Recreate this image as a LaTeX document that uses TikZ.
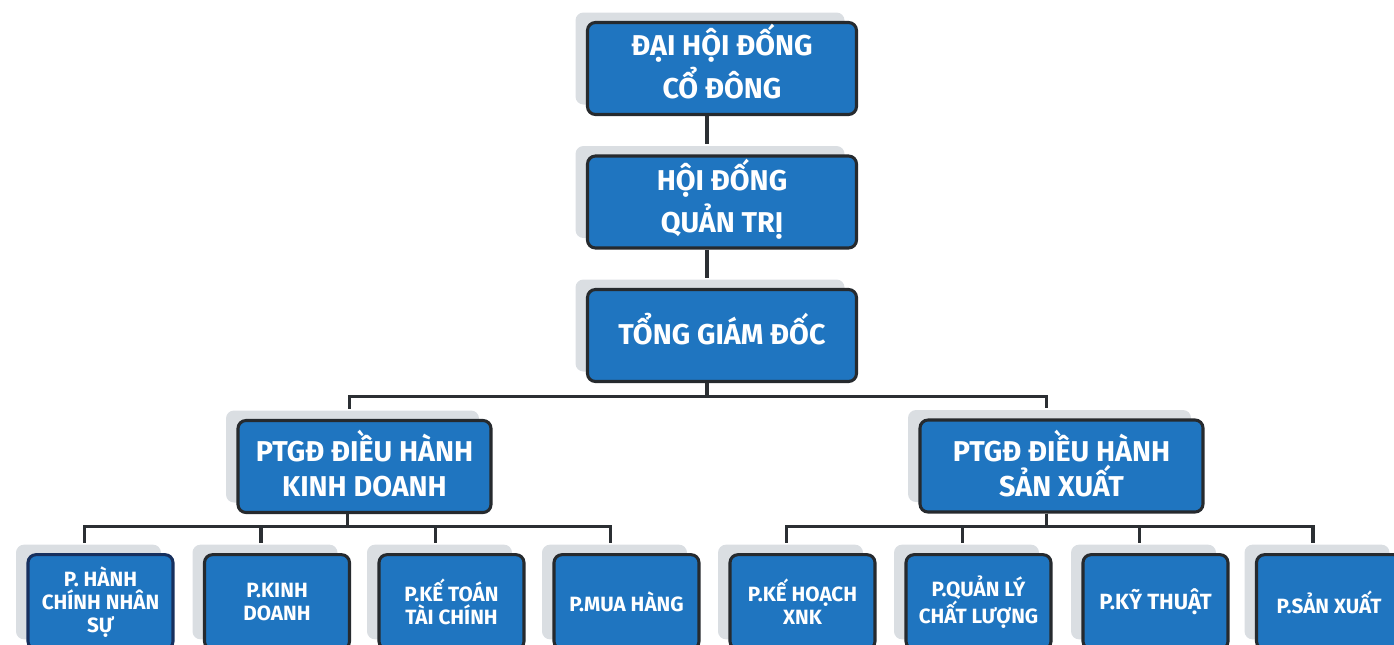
\documentclass[tikz,border=0pt]{standalone}
\usepackage{fontspec}
\setmainfont{Fira Sans}
\usetikzlibrary{shadows, positioning}
\definecolor{boxblue}{HTML}{1F75C0}
\definecolor{boxedge}{HTML}{262A2E}
\definecolor{navyedge}{HTML}{17305E}
\definecolor{shade}{HTML}{DADEE2}
\definecolor{linkcol}{HTML}{2B2F33}
\newcommand{\lift}[2][4pt]{\raisebox{#1}[\height][\depth]{#2}}
\tikzset{
    box/.style={rectangle, rounded corners=6pt, draw=boxedge, line width=2.3pt, fill=boxblue, text=white, align=center,
        general shadow={fill=shade, shadow xshift=-9pt, shadow yshift=7.5pt}},
    top box/.style={box, minimum width=201.75pt, minimum height=69pt, font=\bfseries\fontsize{21.5}{32}\selectfont},
    deputy box/.style={box, minimum height=69pt, font=\bfseries\fontsize{21.5}{26}\selectfont},
    dept box/.style={box, minimum width=108.75pt, minimum height=71pt, font=\bfseries\fontsize{15.5}{17.5}\selectfont},
    link/.style={draw=linkcol, line width=2.3pt}
}
\begin{document}
\begin{tikzpicture}[x=0.75pt, y=-0.75pt]
    \useasboundingbox (0,0) rectangle (1394,644);
    \clip (0,0) rectangle (1394,644);

    \node[top box] (dhcd) at (722,68.5) {\lift[5pt]{ĐẠI HỘI ĐỐNG}\\\lift[5pt]{CỔ ĐÔNG}};
    \node[top box] (hdqt) at (722,202) {\lift[2pt]{HỘI ĐỐNG}\\\lift[2pt]{QUẢN TRỊ}};
    \node[top box] (tgd) at (722,335.5) {\lift[5pt]{TỔNG GIÁM ĐỐC}};

    \node[deputy box, minimum width=189.75pt] (kd) at (364.5,466.5) {\lift[2pt]{PTGĐ ĐIỀU HÀNH}\\\lift[2pt]{KINH DOANH}};
    \node[deputy box, minimum width=212.25pt] (sx) at (1061.5,466) {\lift[2pt]{PTGĐ ĐIỀU HÀNH}\\\lift[2pt]{SẢN XUẤT}};

    \node[dept box, draw=navyedge] (hcns) at (100.5,602) {P. HÀNH\\CHÍNH NHÂN\\SỰ};
    \node[dept box] (pkd) at (277,602) {P.KINH\\DOANH};
    \node[dept box] (ktoan) at (451.5,602) {P.KẾ TOÁN\\TÀI CHÍNH};
    \node[dept box] (muahang) at (626.5,602) {P.MUA HÀNG};
    \node[dept box] (xnk) at (802.5,602) {P.KẾ HOẠCH\\XNK};
    \node[dept box] (qlcl) at (978.5,602) {P.QUẢN LÝ\\CHẤT LƯỢNG};
    \node[dept box, font=\bfseries\fontsize{16.5}{18}\selectfont] (kythuat) at (1155.5,602) {P.KỸ THUẬT};
    \node[dept box] (sanxuat) at (1329,602) {P.SẢN XUẤT};

    \draw[link] ([xshift=-11.25pt]dhcd.south) -- ([shift={(-15,-10)}]hdqt.north);
    \draw[link] ([xshift=-11.25pt]hdqt.south) -- ([shift={(-15,-10)}]tgd.north);

    \foreach \n in {kd, sx}
        \draw[link] ([xshift=-11.25pt]tgd.south) -- ++(0,13) -| ([shift={(-15,-10)}]\n.north);
    \foreach \n in {hcns, pkd, ktoan, muahang}
        \draw[link] ([xshift=-12.75pt]kd.south) -- ++(0,12) -| ([shift={(-16,-10)}]\n.north);
    \foreach \n in {xnk, qlcl, kythuat, sanxuat}
        \draw[link] ([xshift=-11.25pt]sx.south) -- ++(0,13) -| ([shift={(-16,-10)}]\n.north);
\end{tikzpicture}
\end{document}
